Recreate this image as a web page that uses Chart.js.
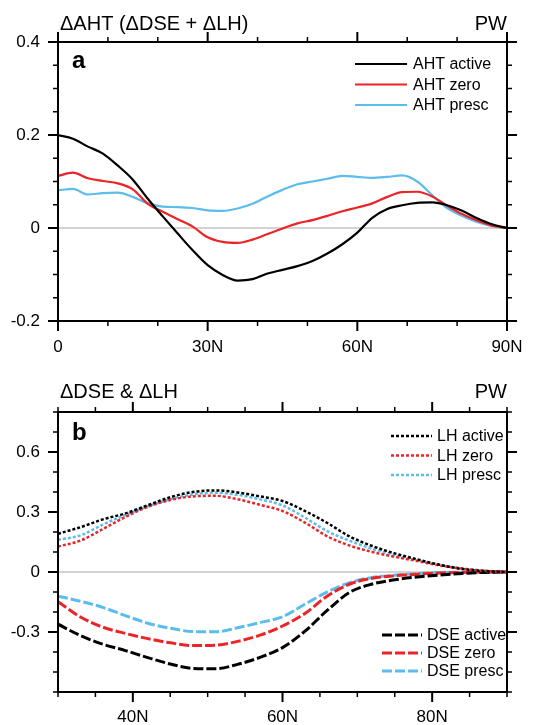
<!DOCTYPE html>
<html>
<head>
<meta charset="utf-8">
<script src="https://cdn.jsdelivr.net/npm/chart.js@4.4.1/dist/chart.umd.min.js"></script>
<style>
  body { margin: 0; background: #fff; width: 540px; height: 725px; position: relative; overflow: hidden; }
  canvas { position: absolute; left: 0; }
  #chartA { top: 0; }
  #chartB { top: 360px; }
</style>
</head>
<body>
<canvas id="chartA" width="540" height="360"></canvas>
<canvas id="chartB" width="540" height="365"></canvas>
<script>
// =====================================================
// DATOS - PANEL A (AHT)
// =====================================================

const latA = [0, 3, 6, 9, 12, 15, 18, 21, 24, 27, 30, 33, 36, 39, 42, 45, 48, 51, 54, 57, 60, 63, 66, 69, 72, 75, 78, 81, 84, 87, 90];
const ahtActive = [0.200, 0.192, 0.175, 0.160, 0.134, 0.104, 0.063, 0.025, -0.012, -0.048, -0.080, -0.101, -0.113, -0.110, -0.098, -0.090, -0.082, -0.071, -0.055, -0.035, -0.010, 0.022, 0.041, 0.049, 0.054, 0.055, 0.049, 0.037, 0.021, 0.008, 0];
const ahtZero = [0.112, 0.119, 0.107, 0.101, 0.096, 0.083, 0.052, 0.035, 0.019, 0.003, -0.020, -0.030, -0.032, -0.025, -0.013, -0.001, 0.010, 0.017, 0.026, 0.036, 0.044, 0.053, 0.067, 0.077, 0.078, 0.068, 0.048, 0.030, 0.016, 0.005, 0];
const ahtPresc = [0.081, 0.084, 0.072, 0.075, 0.076, 0.067, 0.053, 0.046, 0.045, 0.043, 0.038, 0.037, 0.042, 0.052, 0.068, 0.082, 0.094, 0.100, 0.106, 0.112, 0.110, 0.108, 0.110, 0.113, 0.100, 0.071, 0.043, 0.026, 0.013, 0.004, 0];

const xTicksA = [0, 30, 60, 90];
const xLabelsA = ["0", "30N", "60N", "90N"];
const yTicksA = [-0.2, 0, 0.2, 0.4];
const yLabelsA = ["-0.2", "0", "0.2", "0.4"];

// =====================================================
// DATOS - PANEL B (DSE & LH)
// =====================================================

const latB = [30, 33, 36, 39, 42, 45, 48, 51, 54, 57, 60, 63, 66, 69, 72, 75, 78, 81, 84, 87, 90];
const lhActive = [0.191, 0.224, 0.263, 0.293, 0.334, 0.374, 0.400, 0.408, 0.398, 0.378, 0.355, 0.305, 0.245, 0.177, 0.130, 0.093, 0.063, 0.036, 0.015, 0.005, 0];
const lhZero = [0.127, 0.157, 0.215, 0.275, 0.326, 0.360, 0.378, 0.381, 0.364, 0.336, 0.305, 0.247, 0.178, 0.132, 0.100, 0.076, 0.055, 0.033, 0.017, 0.006, 0];
const lhPresc = [0.161, 0.183, 0.237, 0.285, 0.328, 0.364, 0.388, 0.396, 0.386, 0.363, 0.333, 0.272, 0.204, 0.156, 0.116, 0.084, 0.060, 0.036, 0.018, 0.006, 0];
const dseActive = [-0.261, -0.318, -0.361, -0.393, -0.428, -0.460, -0.482, -0.484, -0.462, -0.427, -0.378, -0.296, -0.191, -0.101, -0.060, -0.039, -0.025, -0.015, -0.007, -0.002, 0];
const dseZero = [-0.149, -0.225, -0.276, -0.307, -0.333, -0.354, -0.368, -0.366, -0.347, -0.316, -0.270, -0.207, -0.120, -0.060, -0.031, -0.019, -0.011, -0.005, -0.002, 0, 0];
const dsePresc = [-0.121, -0.146, -0.177, -0.218, -0.256, -0.281, -0.298, -0.299, -0.279, -0.253, -0.224, -0.161, -0.099, -0.053, -0.027, -0.016, -0.008, -0.003, -0.001, 0, 0];

const xTicksB = [40, 60, 80];
const xLabelsB = ["40N", "60N", "80N"];
const yTicksB = [-0.3, 0, 0.3, 0.6];
const yLabelsB = ["-0.3", "0", "0.3", "0.6"];

// =====================================================
// ESTILOS
// =====================================================

const NEGRO = "#000000";
const ROJO = "#ec2427";
const AZUL = "#5bbdec";
const FUENTE = "'Liberation Sans', Arial, sans-serif";

Chart.defaults.font.family = FUENTE;
Chart.defaults.color = "#000";

function serie(lat, vals) {
  return lat.map((x, i) => ({ x: x, y: vals[i] }));
}

// =====================================================
// PLUGIN: MARCO, TICKS, TITULOS Y LEYENDA
// =====================================================

function marcoPlugin(cfg) {
  return {
    id: "marco",
    beforeDatasetsDraw(chart) {
      const { ctx, chartArea: a, scales: { y } } = chart;
      const y0 = y.getPixelForValue(0);
      ctx.save();
      ctx.strokeStyle = "#a8a8a8";
      ctx.lineWidth = 1;
      ctx.beginPath();
      ctx.moveTo(a.left, y0);
      ctx.lineTo(a.right, y0);
      ctx.stroke();
      ctx.restore();
    },
    afterDatasetsDraw(chart) {
      const { ctx, chartArea: a, scales: { x, y } } = chart;
      ctx.save();

      // marco
      ctx.strokeStyle = NEGRO;
      ctx.lineWidth = 2;
      ctx.strokeRect(a.left, a.top, a.right - a.left, a.bottom - a.top);

      // ticks
      const tick = (len, w, isX, v) => {
        ctx.lineWidth = w;
        ctx.beginPath();
        if (isX) {
          const px = x.getPixelForValue(v);
          ctx.moveTo(px, a.bottom); ctx.lineTo(px, a.bottom + len);
          ctx.moveTo(px, a.top); ctx.lineTo(px, a.top - len);
        } else {
          const py = y.getPixelForValue(v);
          ctx.moveTo(a.left, py); ctx.lineTo(a.left - len, py);
          ctx.moveTo(a.right, py); ctx.lineTo(a.right + len, py);
        }
        ctx.stroke();
      };
      for (let v = x.min; v <= x.max + 1e-9; v += cfg.xMinor) {
        if (!cfg.xMajor.some(m => Math.abs(m - v) < 1e-6)) tick(5, 1.5, true, v);
      }
      cfg.xMajor.forEach(v => tick(10, 2, true, v));
      for (let v = y.min; v <= y.max + 1e-9; v += cfg.yMinor) {
        if (!cfg.yMajor.some(m => Math.abs(m - v) < 1e-6)) tick(5, 1.5, false, v);
      }
      cfg.yMajor.forEach(v => tick(10, 2, false, v));

      // titulos
      ctx.fillStyle = NEGRO;
      ctx.textBaseline = "alphabetic";
      ctx.font = "20px " + FUENTE;
      ctx.textAlign = "left";
      ctx.fillText(cfg.titulo, a.left + 2, cfg.tituloY);
      ctx.textAlign = "right";
      ctx.fillText("PW", a.right, cfg.tituloY);

      // letra del panel
      ctx.textAlign = "left";
      ctx.font = "bold 24px " + FUENTE;
      ctx.fillText(cfg.letra, a.left + 14, cfg.letraY);

      // leyenda
      ctx.font = "16px " + FUENTE;
      ctx.textBaseline = "middle";
      cfg.leyendas.forEach(g => {
        g.items.forEach((idx, k) => {
          const ds = chart.data.datasets[idx];
          const yy = g.y + k * g.dy;
          ctx.strokeStyle = ds.borderColor;
          ctx.lineWidth = ds.borderWidth;
          ctx.setLineDash(ds.borderDash || []);
          ctx.beginPath();
          ctx.moveTo(g.x1, yy);
          ctx.lineTo(g.x2, yy);
          ctx.stroke();
          ctx.setLineDash([]);
          ctx.fillStyle = NEGRO;
          ctx.fillText(ds.label, g.tx, yy + 1);
        });
      });

      ctx.restore();
    }
  };
}

// =====================================================
// CREAR PANEL
// =====================================================

function crearPanel(id, p) {
  const ctx = document.getElementById(id).getContext("2d");

  return new Chart(ctx, {
    type: "line",
    data: { datasets: p.datasets },
    options: {
      responsive: false,
      animation: false,
      events: [],
      devicePixelRatio: 1,
      layout: { padding: { top: p.padTop, right: 33, left: 0, bottom: 0 } },
      elements: { point: { radius: 0 }, line: { cubicInterpolationMode: "monotone" } },
      plugins: { legend: { display: false }, tooltip: { enabled: false } },
      scales: {
        x: {
          type: "linear",
          min: p.xMin,
          max: p.xMax,
          afterBuildTicks: s => { s.ticks = p.xTicks.map(v => ({ value: v })); },
          afterFit: s => { s.height = p.xAxisH; },
          ticks: {
            callback: (v, i) => p.xLabels[i],
            font: { size: 17 },
            color: "#000",
            padding: p.xPad,
            maxRotation: 0,
            autoSkip: false
          },
          grid: { display: false, drawTicks: true, tickLength: 10 },
          border: { display: false }
        },
        y: {
          min: p.yMin,
          max: p.yMax,
          afterBuildTicks: s => { s.ticks = p.yTicks.map(v => ({ value: v })); },
          afterFit: s => { s.width = 58; },
          ticks: {
            callback: (v, i) => p.yLabels[i],
            font: { size: 17 },
            color: "#000",
            padding: 8
          },
          grid: { display: false, drawTicks: true, tickLength: 10 },
          border: { display: false }
        }
      }
    },
    plugins: [marcoPlugin(p.marco)]
  });
}

// =====================================================
// PANEL A
// =====================================================

crearPanel("chartA", {
  padTop: 42, xAxisH: 39, xPad: 6,
  xMin: 0, xMax: 90, yMin: -0.2, yMax: 0.4,
  xTicks: xTicksA, xLabels: xLabelsA, yTicks: yTicksA, yLabels: yLabelsA,
  datasets: [
    { label: "AHT active", data: serie(latA, ahtActive), borderColor: NEGRO, borderWidth: 2.2 },
    { label: "AHT zero", data: serie(latA, ahtZero), borderColor: ROJO, borderWidth: 2.2 },
    { label: "AHT presc", data: serie(latA, ahtPresc), borderColor: AZUL, borderWidth: 2.2 }
  ],
  marco: {
    xMinor: 10, xMajor: xTicksA, yMinor: 0.05, yMajor: yTicksA,
    titulo: "\u0394AHT (\u0394DSE + \u0394LH)", tituloY: 30,
    letra: "a", letraY: 68,
    leyendas: [{ items: [0, 1, 2], x1: 355, x2: 407, tx: 413, y: 64, dy: 20.5 }]
  }
});

// =====================================================
// PANEL B
// =====================================================

crearPanel("chartB", {
  padTop: 52, xAxisH: 33, xPad: 5,
  xMin: 30, xMax: 90, yMin: -0.6, yMax: 0.8,
  xTicks: xTicksB, xLabels: xLabelsB, yTicks: yTicksB, yLabels: yLabelsB,
  datasets: [
    { label: "LH active", data: serie(latB, lhActive), borderColor: NEGRO, borderWidth: 2.5, borderDash: [3, 2] },
    { label: "LH zero", data: serie(latB, lhZero), borderColor: ROJO, borderWidth: 2.5, borderDash: [3, 2] },
    { label: "LH presc", data: serie(latB, lhPresc), borderColor: AZUL, borderWidth: 2.5, borderDash: [3, 2] },
    { label: "DSE active", data: serie(latB, dseActive), borderColor: NEGRO, borderWidth: 3, borderDash: [10, 3] },
    { label: "DSE zero", data: serie(latB, dseZero), borderColor: ROJO, borderWidth: 3, borderDash: [10, 3] },
    { label: "DSE presc", data: serie(latB, dsePresc), borderColor: AZUL, borderWidth: 3, borderDash: [10, 3] }
  ],
  marco: {
    xMinor: 5, xMajor: xTicksB, yMinor: 0.1, yMajor: yTicksB,
    titulo: "\u0394DSE & \u0394LH", tituloY: 38,
    letra: "b", letraY: 80,
    leyendas: [
      { items: [0, 1, 2], x1: 391, x2: 432, tx: 437, y: 76, dy: 19.5 },
      { items: [3, 4, 5], x1: 382, x2: 422, tx: 427, y: 275, dy: 18 }
    ]
  }
});
</script>
</body>
</html>
